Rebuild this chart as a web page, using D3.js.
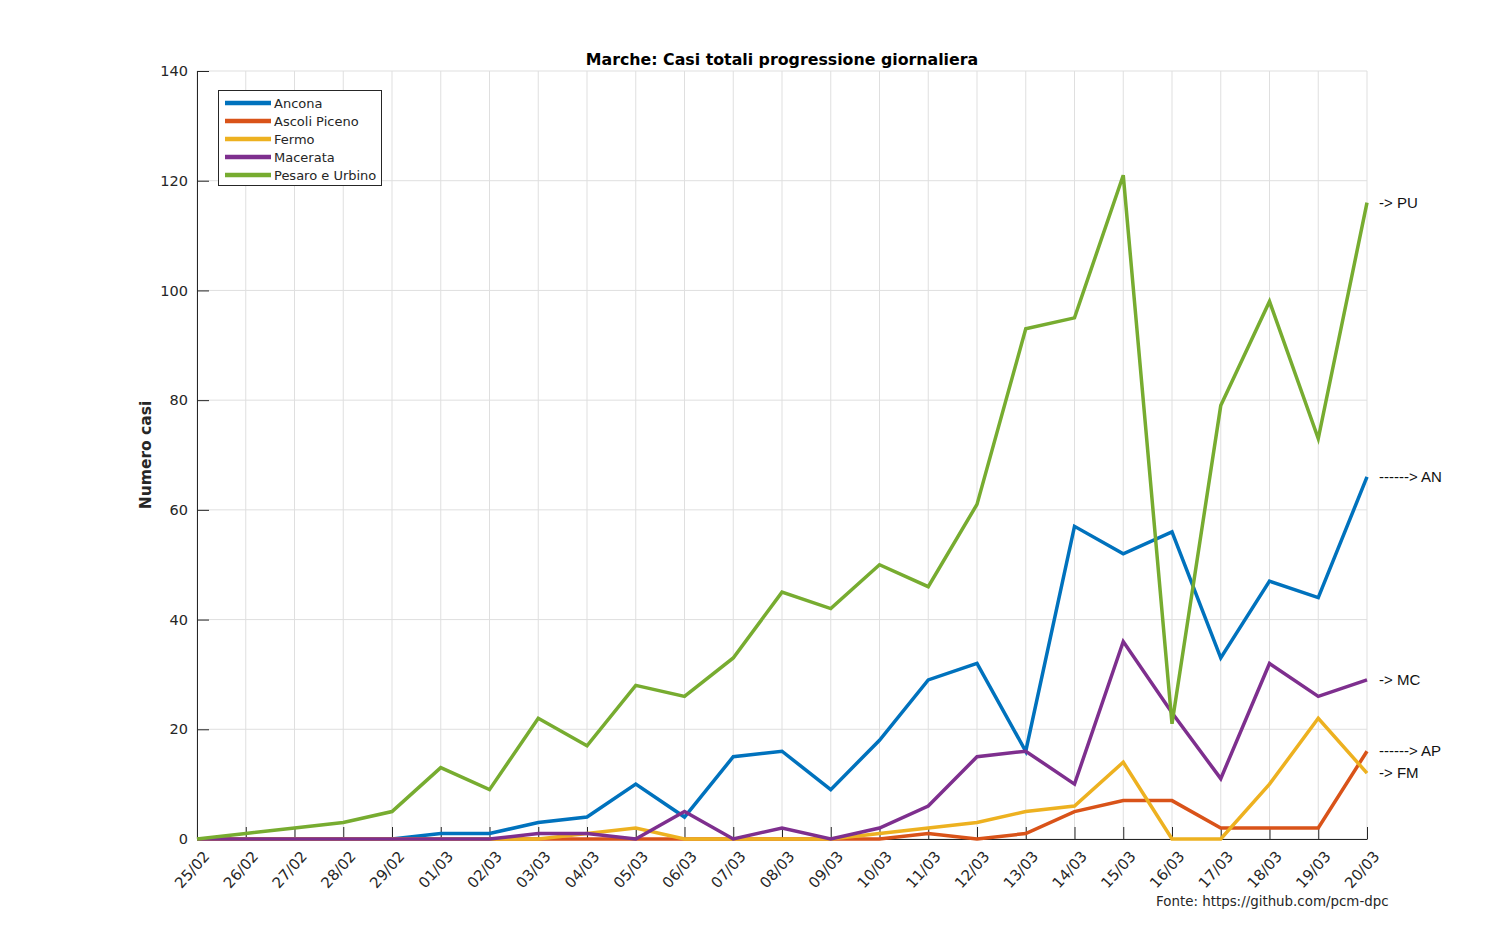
<!DOCTYPE html>
<html>
<head>
<meta charset="utf-8">
<script src="https://cdn.jsdelivr.net/npm/d3@7"></script>
<style>
  body { margin: 0; background: #fff; }
  svg text { font-family: "DejaVu Sans", sans-serif; }
</style>
</head>
<body>
<script>
// dates shown on x axis
var dates = ["25/02","26/02","27/02","28/02","29/02","01/03","02/03","03/03","04/03","05/03",
             "06/03","07/03","08/03","09/03","10/03","11/03","12/03","13/03","14/03","15/03",
             "16/03","17/03","18/03","19/03","20/03"];

var province = ["Ancona", "Ascoli Piceno", "Fermo", "Macerata", "Pesaro e Urbino"];
var sigle = ["------> AN", "------> AP", "-> FM", "-> MC", "-> PU"];
var colori = ["#0072bd", "#d95319", "#edb120", "#7e2f8e", "#77ac30"];

// nuovi casi giornalieri per provincia
var ancona   = [0,0,0,0,0,1,1,3,4,10,4,15,16,9,18,29,32,16,57,52,56,33,47,44,66];
var ascoli   = [0,0,0,0,0,0,0,0,0,0,0,0,0,0,0,1,0,1,5,7,7,2,2,2,16];
var fermo    = [0,0,0,0,0,0,0,0,1,2,0,0,0,0,1,2,3,5,6,14,0,0,10,22,12];
var macerata = [0,0,0,0,0,0,0,1,1,0,5,0,2,0,2,6,15,16,10,36,23,11,32,26,29];
var pesaro   = [0,1,2,3,5,13,9,22,17,28,26,33,45,42,50,46,61,93,95,121,21,79,98,73,116];

var yTicks = [0,20,40,60,80,100,120,140];

var serie = [ancona, ascoli, fermo, macerata, pesaro];

var width = 1511, height = 942;
var pLeft = 197, pRight = 1367, pTop = 71, pBottom = 839;

var svg = d3.select("body").append("svg")
    .attr("width", width)
    .attr("height", height);

var x = d3.scalePoint().domain(dates).range([pLeft, pRight]);
var y = d3.scaleLinear().domain([0, 140]).range([pBottom, pTop]);

// grid
svg.append("g").selectAll("line")
    .data(dates).enter().append("line")
    .attr("x1", d => x(d)).attr("x2", d => x(d))
    .attr("y1", pTop).attr("y2", pBottom)
    .style("stroke", "#dfdfdf").style("stroke-width", 1);
svg.append("g").selectAll("line")
    .data(yTicks).enter().append("line")
    .attr("x1", pLeft).attr("x2", pRight)
    .attr("y1", d => y(d)).attr("y2", d => y(d))
    .style("stroke", "#dfdfdf").style("stroke-width", 1);

// axes (ticks pointing inward)
var yAxis = d3.axisLeft(y).tickValues(yTicks).tickSizeInner(-12).tickSizeOuter(0).tickPadding(9);
var gy = svg.append("g").attr("transform", "translate(" + pLeft + ",0)").call(yAxis);
gy.selectAll("text").style("font-size", "14.5px").style("fill", "#262626").style("font-family", "DejaVu Sans");
gy.selectAll("line, path").style("stroke", "#262626");

var xAxis = d3.axisBottom(x).tickSizeInner(-12).tickSizeOuter(0);
var gx = svg.append("g").attr("transform", "translate(0," + pBottom + ")").call(xAxis);
gx.selectAll("line, path").style("stroke", "#262626");
gx.selectAll("text")
    .style("font-size", "15px").style("fill", "#262626").style("font-family", "DejaVu Sans")
    .attr("text-anchor", "end")
    .attr("dy", null).attr("y", null)
    .attr("transform", "translate(13,18) rotate(-48)");

// lines
var line = d3.line()
    .x((d, i) => x(dates[i]))
    .y(d => y(d));

svg.append("g").selectAll("path")
    .data(serie).enter().append("path")
    .attr("d", line)
    .style("fill", "none")
    .style("stroke", (d, i) => colori[i])
    .style("stroke-width", 3.5)
    .style("stroke-linejoin", "miter");

// labels at right end
svg.append("g").selectAll("text")
    .data(serie).enter().append("text")
    .attr("x", pRight + 12)
    .attr("y", d => y(d[d.length - 1]))
    .attr("dy", "0.35em")
    .style("font-family", "Liberation Sans, Arial, sans-serif")
    .style("font-size", "15px")
    .style("fill", "#111")
    .text((d, i) => sigle[i]);

// title
svg.append("text")
    .attr("x", (pLeft + pRight) / 2).attr("y", 65)
    .attr("text-anchor", "middle")
    .style("font-size", "15.8px").style("font-weight", "bold").style("fill", "#000")
    .text("Marche: Casi totali progressione giornaliera");

// y label
svg.append("text")
    .attr("transform", "translate(151,455) rotate(-90)")
    .attr("text-anchor", "middle")
    .style("font-size", "15.5px").style("font-weight", "bold").style("fill", "#262626")
    .text("Numero casi");

// source
svg.append("text")
    .attr("x", 1156).attr("y", 906)
    .style("font-size", "13.4px").style("fill", "#262626")
    .text("Fonte: https://github.com/pcm-dpc");

// legend
var lg = svg.append("g");
lg.append("rect")
    .attr("x", 218.5).attr("y", 90.5).attr("width", 163).attr("height", 95)
    .style("fill", "#fff").style("stroke", "#262626").style("stroke-width", 1);
var items = lg.selectAll("g").data(province).enter().append("g")
    .attr("transform", (d, i) => "translate(0," + (103 + i * 18) + ")");
items.append("line")
    .attr("x1", 225).attr("x2", 271).attr("y1", 0).attr("y2", 0)
    .style("stroke", (d, i) => colori[i]).style("stroke-width", 4.5);
items.append("text")
    .attr("x", 274).attr("y", 0).attr("dy", "0.35em")
    .style("font-size", "13px").style("fill", "#262626")
    .text(d => d);
</script>
</body>
</html>
